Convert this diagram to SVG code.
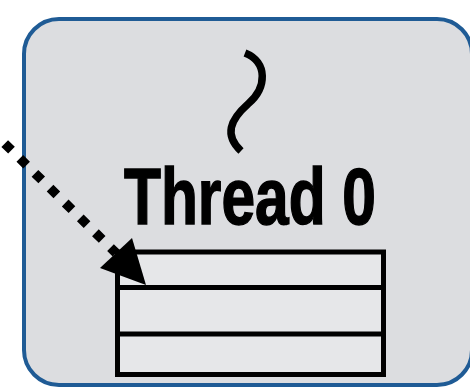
<svg xmlns="http://www.w3.org/2000/svg" width="470" height="387" viewBox="0 0 470 387">
  <style>
    .box { fill: #dcdde0; stroke: #1f5b95; stroke-width: 4; }
    .stack { fill: #e6e7e9; stroke: #000; stroke-width: 5; }
    .div { stroke: #000; stroke-width: 5; }
    .label { font-family: "Liberation Sans", Arial, sans-serif; font-weight: bold; font-size: 79px; fill: #000; stroke: #000; stroke-width: 1.5; }
    .squiggle { fill: none; stroke: #000; stroke-width: 7.5; stroke-linecap: butt; }
    .dots { fill: none; stroke: #000; stroke-width: 9.5; stroke-dasharray: 9.5 11.7; stroke-dashoffset: 4.75; }
  </style>
  <rect width="470" height="387" fill="#ffffff"/>
  <g id="thread0-box">
    <rect class="box" x="24" y="19" width="448" height="366" rx="35" ry="35"/>
  </g>
  <g id="thread0">
    <path class="squiggle" d="M 245 53 C 268 62, 267 88, 248 104 C 230 120, 224 135, 241 151"/>
    <text class="label" x="124" y="224" textLength="252" lengthAdjust="spacingAndGlyphs">Thread 0</text>
  </g>
  <g id="stack">
    <rect class="stack" x="117.5" y="252" width="266" height="122.5"/>
    <line class="div" x1="117.5" y1="287.5" x2="383.5" y2="287.5"/>
    <line class="div" x1="117.5" y1="334" x2="383.5" y2="334"/>
  </g>
  <g id="connectors">
    <path class="dots" d="M -7 132 L 116 253"/>
    <polygon points="100,268 132,238 146,285" fill="#000"/>
  </g>
</svg>
